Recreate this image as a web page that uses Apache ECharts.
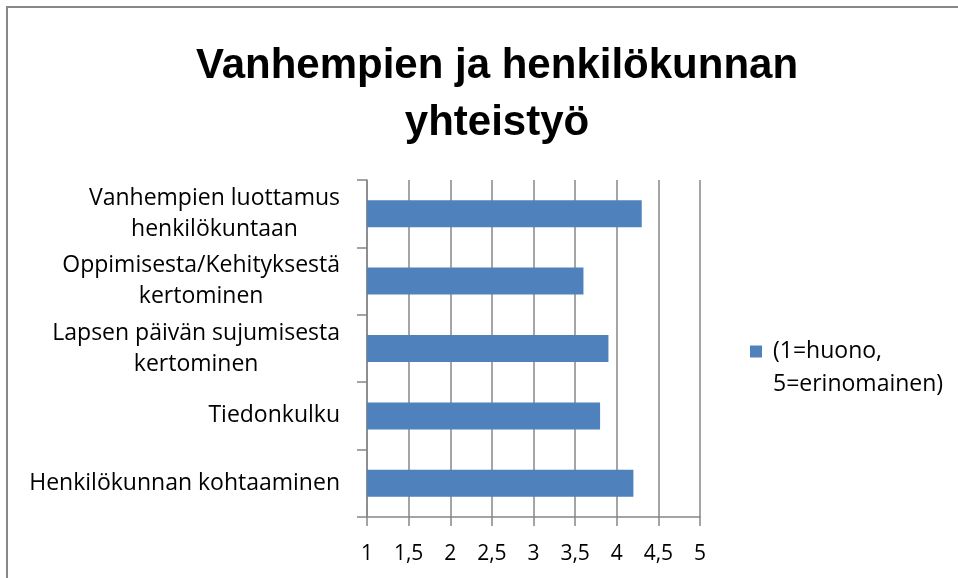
<!DOCTYPE html>
<html>
<head>
<meta charset="utf-8">
<script src="https://cdn.jsdelivr.net/npm/echarts@6/dist/echarts.min.js"></script>
<style>
html,body{margin:0;padding:0;background:#fff;}
#c{width:958px;height:578px;}
</style>
</head>
<body>
<div id="c"></div>
<script>
const titleText = 'Vanhempien ja henkilökunnan\nyhteistyö';
const categories = ['Vanhempien luottamus\nhenkilökuntaan', 'Oppimisesta/Kehityksestä\nkertominen', 'Lapsen päivän sujumisesta\nkertominen', 'Tiedonkulku', 'Henkilökunnan kohtaaminen'];
const seriesName = '(1=huono,\n5=erinomainen)';
const values = [4.3, 3.6, 3.9, 3.8, 4.2];
const axisMin = 1, axisMax = 5, axisStep = 0.5;

const chart = echarts.init(document.getElementById('c'), null, {renderer: 'canvas'});
const bodyFont = '"Open Sans", "Liberation Sans", sans-serif';
const gray = '#878787';
chart.setOption({
  animation: false,
  backgroundColor: '#ffffff',
  graphic: [{
    type: 'rect', silent: true, z: -10,
    shape: {x: 7, y: 7, width: 1000, height: 620},
    style: {fill: 'none', stroke: '#888888', lineWidth: 2}
  }],
  title: {
    text: titleText,
    left: 492, top: 33, textAlign: 'center',
    textStyle: {fontFamily: '"Liberation Sans", Arial, sans-serif', fontWeight: 'bold', fontSize: 42, lineHeight: 57, color: '#000'}
  },
  legend: {
    data: [seriesName],
    left: 750, top: 302, padding: 0,
    icon: 'rect', itemWidth: 12, itemHeight: 12, itemGap: 10,
    formatter: name => ' \n' + name,
    textStyle: {fontFamily: bodyFont, fontSize: 23, lineHeight: 33, color: '#000', padding: [0, 0, 0, 6]}
  },
  grid: {left: 367, right: 258, top: 180, bottom: 61, containLabel: false},
  xAxis: {
    type: 'value', min: axisMin, max: axisMax, interval: axisStep,
    axisLine: {show: true, lineStyle: {color: gray, width: 1.5}},
    axisTick: {show: true, length: 9, lineStyle: {color: gray, width: 1.5}},
    splitLine: {show: true, lineStyle: {color: gray, width: 1.5}},
    axisLabel: {
      margin: 27, fontFamily: bodyFont, fontSize: 21, color: '#000',
      formatter: v => String(v).replace('.', ',')
    }
  },
  yAxis: {
    type: 'category', data: categories, inverse: true,
    axisLine: {show: true, lineStyle: {color: gray, width: 1.5}},
    axisTick: {show: true, length: 10, lineStyle: {color: gray, width: 1.5}},
    axisLabel: {
      margin: 27, align: 'right',
      formatter: v => v.split('\n').map(l => '{c|' + l + '}').join('\n'),
      rich: {c: {align: 'center', fontFamily: bodyFont, fontSize: 23, lineHeight: 31, color: '#000'}}
    }
  },
  series: [{
    name: seriesName, type: 'bar', data: values, barWidth: 27,
    itemStyle: {color: '#4F81BD'}
  }]
});
</script>
</body>
</html>
